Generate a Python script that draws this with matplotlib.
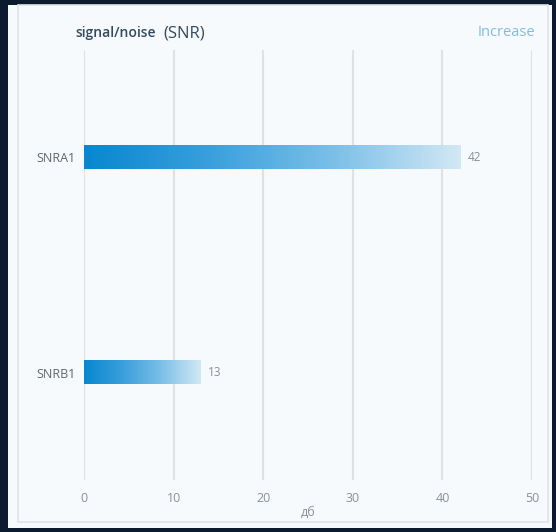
import numpy as np
import matplotlib.pyplot as plt
from matplotlib.patches import Rectangle
from matplotlib.colors import LinearSegmentedColormap

plt.rcParams['font.family'] = ['Open Sans', 'DejaVu Sans']

categories = ['SNRB1', 'SNRA1']
values = [13, 42]
xticks = [0, 10, 20, 30, 40, 50]

W, H = 556, 532
fig = plt.figure(figsize=(W / 100, H / 100), dpi=100)
fig.patch.set_facecolor('#0c1a30')

# white panel with a faint inner frame
fig.patches.append(Rectangle((8 / W, 1 - 528 / H), 544 / W, 523 / H,
                             transform=fig.transFigure, facecolor='#f7fafc',
                             edgecolor='none', zorder=-2))
fig.patches.append(Rectangle((18 / W, 1 - 522 / H), 530 / W, 517 / H,
                             transform=fig.transFigure, facecolor='none',
                             edgecolor='#dfe3e8', lw=1.2, zorder=-1))

ax = fig.add_axes([84 / W, 1 - 480 / H, 448 / W, 430 / H], zorder=2)
ax.set_facecolor('none')

for s in ax.spines.values():
    s.set_visible(False)

ax.set_xticks(xticks)
ax.set_axisbelow(True)
ax.grid(axis='x', color='#dde2e7', lw=1.5, zorder=0)
ax.tick_params(axis='x', length=0, pad=9, labelsize=9, labelcolor='#8a9096')
ax.set_yticks(range(len(categories)))
ax.set_yticklabels(categories)
ax.tick_params(axis='y', length=0, pad=6, labelsize=9, labelcolor='#5f666d')
ax.set_xlabel('дб', fontsize=9, color='#8a9096', labelpad=0)

cmap = LinearSegmentedColormap.from_list('bar', ['#0787d0', '#3a9fdc', '#7cc0e8', '#d2e8f5'])
grad = np.linspace(0, 1, 256).reshape(1, -1)
bh = 0.11
for i, v in enumerate(values):
    ax.imshow(grad, cmap=cmap, aspect='auto', extent=(0, v, i - bh / 2, i + bh / 2),
              zorder=2, interpolation='bicubic')
    ax.text(v + 0.8, i, str(v), va='center', ha='left', fontsize=8.5, color='#8a9096')

ax.set_xlim(0, 50)
ax.set_ylim(-0.5, 1.5)

fig.text(75 / W, 1 - 33 / H, 'signal/noise', fontsize=10, color='#34495e',
         va='center', ha='left', fontweight='semibold')
fig.text(163 / W, 1 - 33 / H, '(SNR)', fontsize=12, color='#34495e',
         va='center', ha='left')
fig.text(535 / W, 1 - 33 / H, 'Increase', fontsize=10.5, color='#7dbde0',
         va='center', ha='right')

fig.savefig('out.png', dpi=100, facecolor=fig.get_facecolor())
